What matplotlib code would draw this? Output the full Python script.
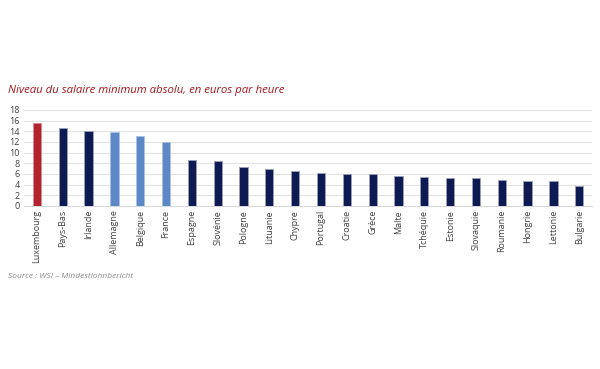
import matplotlib
matplotlib.use("Agg")
import matplotlib.pyplot as plt

countries = ["Luxembourg", "Pays-Bas", "Irlande", "Allemagne", "Belgique", "France",
             "Espagne", "Slovénie", "Pologne", "Lituanie", "Chypre", "Portugal",
             "Croatie", "Grèce", "Malte", "Tchéquie", "Estonie", "Slovaquie",
             "Roumanie", "Hongrie", "Lettonie", "Bulgarie"]
values = [15.5, 14.6, 14.1, 13.9, 13.05, 11.9, 8.55, 8.5, 7.3, 7.0, 6.55, 6.25,
          5.95, 5.9, 5.7, 5.4, 5.3, 5.2, 4.8, 4.7, 4.6, 3.7]
groups = ["lux"] + ["dark"] * 2 + ["light"] * 3 + ["dark"] * 16
yticks = [0, 2, 4, 6, 8, 10, 12, 14, 16, 18]

palette = {"lux": "#b0232f", "dark": "#0e1a52", "light": "#5d88c6"}
edges = {"lux": "#d88a92", "dark": "#9aa0bd", "light": "#a9c1e3"}

plt.rcParams['font.family'] = ['Open Sans', 'DejaVu Sans']

fig = plt.figure(figsize=(6, 3.69), dpi=100)
ax = fig.add_axes([0.04, 0.442, 0.947, 0.26])

x = list(range(len(countries)))
ax.bar(x, values, width=0.32, color=[palette[g] for g in groups],
       edgecolor=[edges[g] for g in groups], linewidth=0.6, zorder=3)

ax.set_xlim(-0.5, len(countries) - 0.5)
ax.set_ylim(0, 18)
ax.set_yticks(yticks)
ax.set_yticklabels([str(t) for t in yticks], fontsize=6.5, color="#404040")
ax.set_xticks(x)
ax.set_xticklabels(countries, rotation=90, fontsize=6.5, color="#404040")
ax.tick_params(axis='both', length=0, pad=3)
ax.grid(axis='y', color="#e3e3e3", linewidth=0.8, zorder=0)
for s in ["top", "right", "left"]:
    ax.spines[s].set_visible(False)
ax.spines["bottom"].set_color("#d9d9d9")
ax.spines["bottom"].set_linewidth(0.8)

fig.text(0.013, 0.755, "Niveau du salaire minimum absolu, en euros par heure",
         fontsize=8.2, style='italic', color="#a3161a", ha='left', va='center')
fig.text(0.013, 0.25, "Source : WSI – Mindestlohnbericht",
         fontsize=6, style='italic', color="#8a8a8a", ha='left', va='center')

fig.savefig("out.png", dpi=100, facecolor="white")
